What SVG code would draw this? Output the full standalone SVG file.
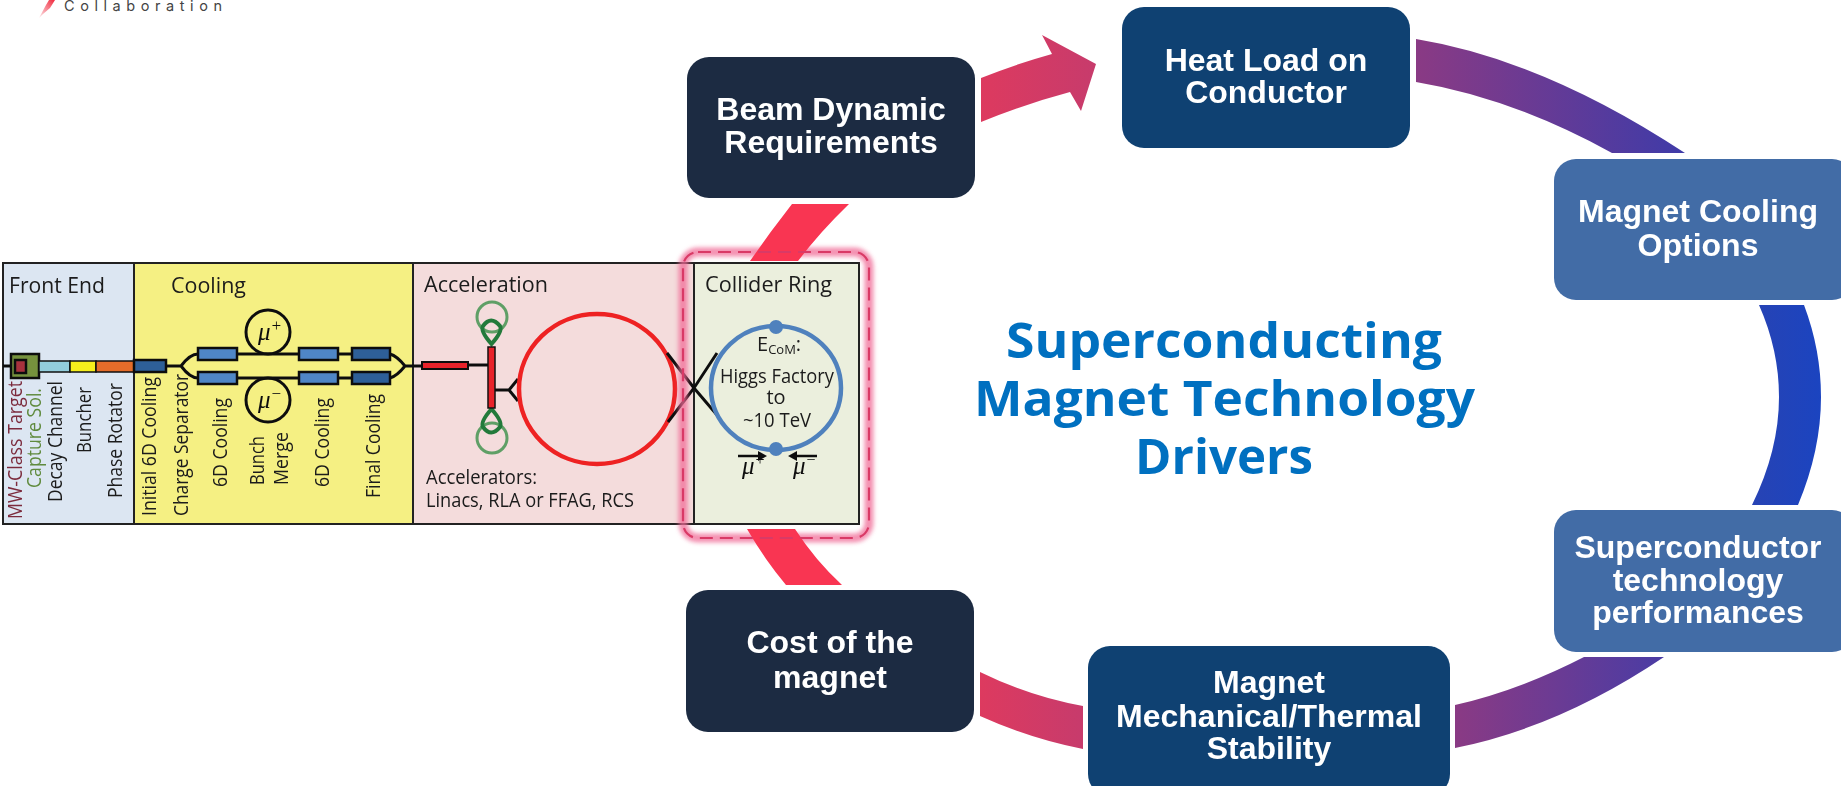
<svg xmlns="http://www.w3.org/2000/svg" width="1841" height="786" viewBox="0 0 1841 786">
<style>
.n{font:bold 32px "Liberation Sans",Arial,sans-serif;fill:#fff;text-anchor:middle}
.t{font:bold 49px "Open Sans","Liberation Sans",sans-serif;fill:#0070c0}
.l{font:21px "Open Sans","Liberation Sans",sans-serif;fill:#1a1a1a}
.v{font:20px "Open Sans","Liberation Sans",sans-serif;fill:#1a1a1a}
.s{font:20px "Open Sans","Liberation Sans",sans-serif;fill:#1a1a1a}
.m{font:italic 25px "Liberation Serif",serif;fill:#111}
.k{fill:none;stroke:#111;stroke-width:3}
.b1{fill:#4f86c6;stroke:#111;stroke-width:2.5}
.b2{fill:#2f5f98;stroke:#111;stroke-width:2.5}
.dark{fill:#1c2b42}.navy{fill:#0f4172}.mid{fill:#426ca6}
.panel{stroke:#222;stroke-width:2}
</style>
<defs>
<linearGradient id="red1" gradientUnits="userSpaceOnUse" x1="981" y1="0" x2="1096" y2="0"><stop offset="0" stop-color="#dd3a5f"/><stop offset="1" stop-color="#c73b6c"/></linearGradient>
<linearGradient id="red2" gradientUnits="userSpaceOnUse" x1="980" y1="0" x2="1083" y2="0"><stop offset="0" stop-color="#dd3a5f"/><stop offset="1" stop-color="#c73b6c"/></linearGradient>
<linearGradient id="pur1" gradientUnits="userSpaceOnUse" x1="1416" y1="0" x2="1685" y2="0"><stop offset="0" stop-color="#8a3a84"/><stop offset="1" stop-color="#3f3ba8"/></linearGradient>
<linearGradient id="pur2" gradientUnits="userSpaceOnUse" x1="1455" y1="0" x2="1664" y2="0"><stop offset="0" stop-color="#8a3a84"/><stop offset="1" stop-color="#4a3ca4"/></linearGradient>
<linearGradient id="blue" gradientUnits="userSpaceOnUse" x1="1752" y1="0" x2="1821" y2="0"><stop offset="0" stop-color="#2743b4"/><stop offset="1" stop-color="#1b44c0"/></linearGradient>
<linearGradient id="logo" x1="1" y1="0" x2="0" y2="1"><stop offset="0" stop-color="#f0283c"/><stop offset="1" stop-color="#f0283c" stop-opacity="0.1"/></linearGradient>
<filter id="glow" x="-20%" y="-20%" width="140%" height="140%"><feGaussianBlur stdDeviation="2.2"/></filter>
<filter id="soft" x="-5%" y="-5%" width="110%" height="110%"><feGaussianBlur stdDeviation="0.45"/></filter>
</defs>
<rect width="1841" height="786" fill="#fff"/>

<g id="logo-mark">
<path d="M39 18L46 5L49 0H55L50 8L43 14Z" fill="url(#logo)"/>
<text x="64" y="11" font-family="Inter,'Liberation Sans',sans-serif" font-size="14.5" fill="#444" textLength="158">Collaboration</text>
</g>

<g id="connectors">
<path d="M981 78Q1016 64 1052 54L1042 35L1096 64L1081 111L1070 92Q1025 104 981 122Z" fill="url(#red1)"/>
<path d="M1416 39Q1544 60 1685 153H1612Q1512 98 1416 82Z" fill="url(#pur1)"/>
<path d="M1804 305Q1821 350 1821 397Q1821 450 1798 505H1752Q1779 450 1779 397Q1779 350 1759 305Z" fill="url(#blue)"/>
<path d="M1455 748Q1560 727 1664 657H1584Q1520 690 1455 705Z" fill="url(#pur2)"/>
<path d="M980 672Q1031 697 1083 706V749Q1031 739 980 716Z" fill="url(#red2)"/>
</g>

<g id="accelerator-schematic">
<g filter="url(#soft)">
<rect x="3" y="263" width="131" height="261" fill="#dce6f2" class="panel"/>
<rect x="134" y="263" width="279" height="261" fill="#f5f083" class="panel"/>
<rect x="413" y="263" width="281" height="261" fill="#f4dcdc" class="panel"/>
<rect x="694" y="263" width="165" height="261" fill="#ebefdd" class="panel"/>

<path class="k" d="M3 366H11M166 366H181M181 366Q190 354 198 354M181 366Q190 378 198 378M237 354H299M338 354H352M237 378H299M338 378H352M390 354Q397 356 405 366Q397 376 390 378M405 366H422M468 365H488M495 390H509M518 379L509 390L518 401"/>
<rect x="11" y="354" width="28" height="24" fill="#76923c" stroke="#111" stroke-width="2.5"/>
<rect x="15" y="360" width="11" height="13" fill="#a8323c" stroke="#111" stroke-width="2.5"/>
<rect x="39" y="361" width="31" height="11" fill="#92cddc" stroke="#111" stroke-width="1.5"/>
<rect x="70" y="361" width="26" height="11" fill="#f5ee1c" stroke="#111" stroke-width="1.5"/>
<rect x="96" y="361" width="38" height="11" fill="#e46c2a" stroke="#111" stroke-width="1.5"/>
<rect x="134" y="360" width="32" height="12" class="b2"/>
<rect x="198" y="348" width="39" height="12" class="b1"/><rect x="198" y="372" width="39" height="12" class="b1"/>
<rect x="299" y="348" width="39" height="12" class="b1"/><rect x="299" y="372" width="39" height="12" class="b1"/>
<rect x="352" y="348" width="38" height="12" class="b2"/><rect x="352" y="372" width="38" height="12" class="b2"/>
<circle cx="268" cy="332" r="22" class="k" stroke-width="3.5"/>
<circle cx="268" cy="400" r="22" class="k" stroke-width="3.5"/>
<text class="m" x="258" y="340">μ<tspan style="font-size:17px" dy="-9">+</tspan></text>
<text class="m" x="258" y="408">μ<tspan style="font-size:17px" dy="-9">−</tspan></text>

<text class="l" x="9" y="293" textLength="96" lengthAdjust="spacingAndGlyphs">Front End</text>
<text class="l" x="171" y="293" textLength="75" lengthAdjust="spacingAndGlyphs">Cooling</text>
<text class="l" x="424" y="292" textLength="124" lengthAdjust="spacingAndGlyphs">Acceleration</text>
<text class="l" x="705" y="292" textLength="127" lengthAdjust="spacingAndGlyphs">Collider Ring</text>
<text class="s" x="426" y="484" textLength="111" lengthAdjust="spacingAndGlyphs">Accelerators:</text>
<text class="s" x="426" y="507" textLength="208" lengthAdjust="spacingAndGlyphs">Linacs, RLA or FFAG, RCS</text>

<text class="v" style="fill:#7b2b3c" transform="translate(22 519) rotate(-90)" textLength="138" lengthAdjust="spacingAndGlyphs">MW-Class Target</text>
<text class="v" style="fill:#5f8a3c" transform="translate(40.5 488) rotate(-90)" textLength="100" lengthAdjust="spacingAndGlyphs">Capture Sol.</text>
<text class="v" transform="translate(62 502) rotate(-90)" textLength="121" lengthAdjust="spacingAndGlyphs">Decay Channel</text>
<text class="v" transform="translate(91 453) rotate(-90)" textLength="66" lengthAdjust="spacingAndGlyphs">Buncher</text>
<text class="v" transform="translate(122 498) rotate(-90)" textLength="115" lengthAdjust="spacingAndGlyphs">Phase Rotator</text>
<text class="v" transform="translate(156 516) rotate(-90)" textLength="139" lengthAdjust="spacingAndGlyphs">Initial 6D Cooling</text>
<text class="v" transform="translate(188 516) rotate(-90)" textLength="142" lengthAdjust="spacingAndGlyphs">Charge Separator</text>
<text class="v" transform="translate(227 487) rotate(-90)" textLength="89" lengthAdjust="spacingAndGlyphs">6D Cooling</text>
<text class="v" transform="translate(264 485) rotate(-90)" textLength="49" lengthAdjust="spacingAndGlyphs">Bunch</text>
<text class="v" transform="translate(288 485) rotate(-90)" textLength="53" lengthAdjust="spacingAndGlyphs">Merge</text>
<text class="v" transform="translate(329 487) rotate(-90)" textLength="89" lengthAdjust="spacingAndGlyphs">6D Cooling</text>
<text class="v" transform="translate(380 498) rotate(-90)" textLength="104" lengthAdjust="spacingAndGlyphs">Final Cooling</text>

<rect x="422" y="362" width="46" height="7" fill="#e8232a" stroke="#111" stroke-width="2"/>
<g fill="none" stroke="#5f9f66" stroke-width="3">
<circle cx="492" cy="317" r="15"/><circle cx="492" cy="438" r="15"/>
</g>
<g fill="none" stroke="#237a3a" stroke-width="4">
<path d="M491.500 344Q480 331 483 326Q491 315 500 326Q503 331 491.500 344Z"/>
<path d="M491.500 409Q480 422 483 427Q491 438 500 427Q503 422 491.500 409Z"/>
</g>
<rect x="488" y="347" width="7" height="61" fill="#e8232a" stroke="#111" stroke-width="1.5"/>
<ellipse cx="597" cy="389" rx="78" ry="75" fill="none" stroke="#ee2024" stroke-width="4.500"/>
<path d="M667 353L694 388L717 415M668 422L694 388L717 353" fill="none" stroke="#111" stroke-width="3"/>
<ellipse cx="776" cy="388" rx="65" ry="62" fill="none" stroke="#4f81bd" stroke-width="4.500"/>
<circle cx="776" cy="327" r="7" fill="#4f81bd"/><circle cx="776" cy="449" r="7" fill="#4f81bd"/>
<text class="s" x="757" y="351">E<tspan style="font-size:13px" dy="3">CoM</tspan><tspan dy="-3">:</tspan></text>
<text class="s" x="720" y="383" textLength="114" lengthAdjust="spacingAndGlyphs">Higgs Factory</text>
<text class="s" x="776" y="404" text-anchor="middle">to</text>
<text class="s" x="743" y="427" textLength="68" lengthAdjust="spacingAndGlyphs">~10 TeV</text>
<path d="M738 456H762M817 456H793" stroke="#111" stroke-width="2.500" fill="none"/>
<path d="M767 456L758 451V461ZM788 456L797 451V461Z" fill="#111"/>
<text class="m" x="742" y="474">μ<tspan style="font-size:16px" dy="-9">+</tspan></text>
<text class="m" x="793" y="474">μ<tspan style="font-size:16px" dy="-9">−</tspan></text>
</g>
</g>

<g id="collider-highlight">
<rect x="683" y="252" width="186" height="286" rx="15" fill="none" stroke="#f06a96" stroke-width="9" opacity="0.75" filter="url(#glow)"/>
<path d="M792 204H849Q820 232 798 261H750Q770 232 792 204Z" fill="#f93552"/>
<path d="M747 529H795Q815 560 842 585H786Q765 560 747 529Z" fill="#f93552"/>
<rect x="683" y="252" width="186" height="286" rx="15" fill="none" stroke="#d93a66" stroke-width="2.200" stroke-dasharray="13 7"/>
</g>

<g id="title">
<text class="t" x="1006" y="358" textLength="436" lengthAdjust="spacingAndGlyphs">Superconducting</text>
<text class="t" x="974" y="416" textLength="501" lengthAdjust="spacingAndGlyphs">Magnet Technology</text>
<text class="t" x="1135" y="474" textLength="178" lengthAdjust="spacingAndGlyphs">Drivers</text>
</g>

<g id="node-beam"><rect class="dark" x="687" y="57" width="288" height="141" rx="22"/><text class="n" x="831" y="120">Beam Dynamic</text><text class="n" x="831" y="153">Requirements</text></g>
<g id="node-heat"><rect class="navy" x="1122" y="7" width="288" height="141" rx="22"/><text class="n" x="1266" y="71">Heat Load on</text><text class="n" x="1266" y="103">Conductor</text></g>
<g id="node-cooling"><rect class="mid" x="1554" y="159" width="300" height="141" rx="22"/><text class="n" x="1698" y="222">Magnet Cooling</text><text class="n" x="1698" y="256">Options</text></g>
<g id="node-superconductor"><rect class="mid" x="1554" y="510" width="300" height="142" rx="22"/><text class="n" x="1698" y="558">Superconductor</text><text class="n" x="1698" y="591">technology</text><text class="n" x="1698" y="623">performances</text></g>
<g id="node-stability"><rect class="navy" x="1088" y="646" width="362" height="150" rx="22"/><text class="n" x="1269" y="693">Magnet</text><text class="n" x="1269" y="727">Mechanical/Thermal</text><text class="n" x="1269" y="759">Stability</text></g>
<g id="node-cost"><rect class="dark" x="686" y="590" width="288" height="142" rx="22"/><text class="n" x="830" y="653">Cost of the</text><text class="n" x="830" y="688">magnet</text></g>
</svg>
